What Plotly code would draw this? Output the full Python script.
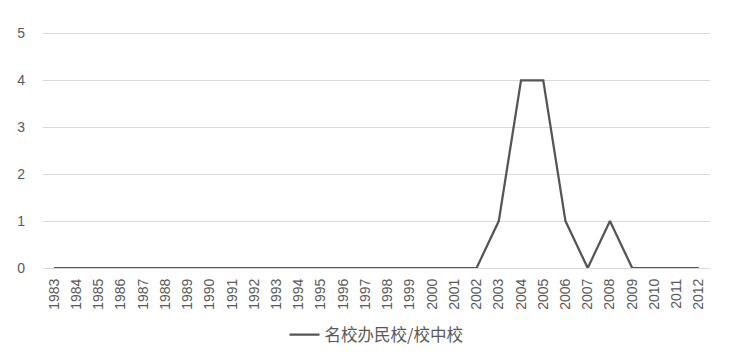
import plotly.graph_objects as go

years = [str(y) for y in range(1983, 2013)]
values = [0]*20 + [1, 4, 4, 1, 0, 1, 0, 0, 0, 0]
series_name = "名校办民校/校中校"
y_ticks = [0, 1, 2, 3, 4, 5]

fig = go.Figure()
fig.add_trace(go.Scatter(
    x=years, y=values, mode="lines", name=series_name,
    line=dict(color="#555555", width=2.25),
))

fig.update_layout(
    width=751, height=361,
    margin=dict(l=43, r=41, t=32, b=93, autoexpand=False),
    paper_bgcolor="white", plot_bgcolor="white",
    font=dict(family="Liberation Sans, Noto Sans CJK SC", size=14, color="#595959"),
    showlegend=True,
    legend=dict(orientation="h", x=0.5, xanchor="center", y=-0.284, yanchor="middle",
                font=dict(family="Noto Sans CJK SC", size=16.5, color="#595959")),
    xaxis=dict(type="category", tickangle=-90, showgrid=False, automargin=False,
               showline=True, linecolor="#d9d9d9", linewidth=1,
               ticks="", ticklabelstandoff=4, tickfont=dict(size=14, color="#595959"),
               range=[-0.5, len(years) - 0.5]),
    yaxis=dict(range=[0, 5.03], tickvals=y_ticks, showgrid=True, gridcolor="#d9d9d9",
               gridwidth=1, zeroline=False, showline=False, ticks="", automargin=False,
               ticklabelstandoff=17, tickfont=dict(size=14, color="#595959")),
)

fig.write_html("out.html")
